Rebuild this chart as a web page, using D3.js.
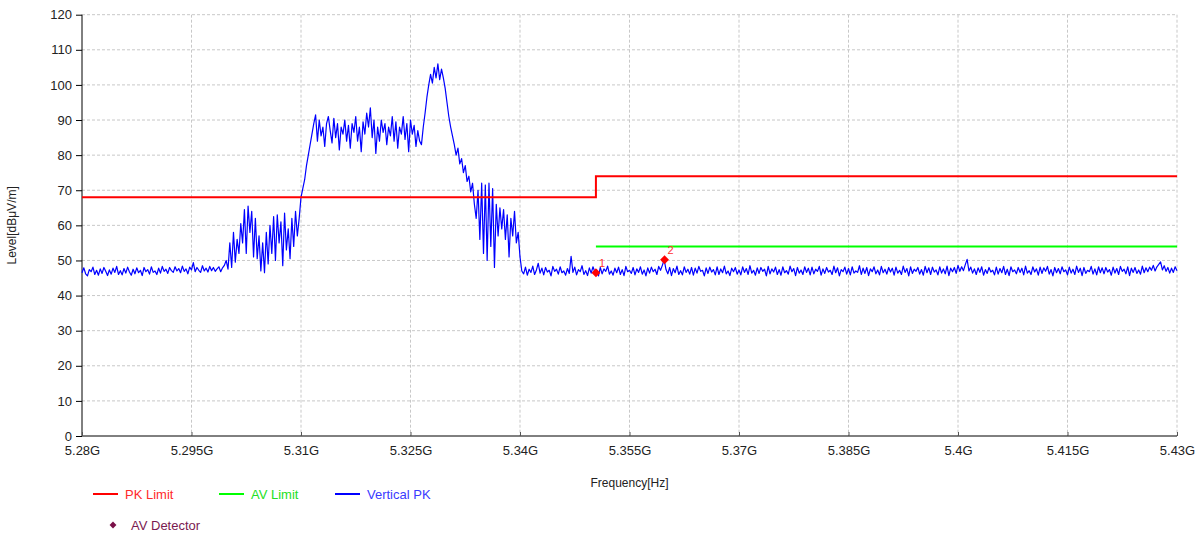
<!DOCTYPE html>
<html>
<head>
<meta charset="utf-8">
<script src="https://cdn.jsdelivr.net/npm/d3@7"></script>
<style>
  body { margin: 0; background: #fff; }
  svg { font-family: "Liberation Sans", Arial, sans-serif; }
  .grid line { stroke: #c8c8c8; stroke-dasharray: 3,2; }
</style>
</head>
<body>
<svg id="chart" width="1204" height="536"></svg>
<script>
// sweep: start / step in GHz, one level per step
var sweepStart = 5.28,
    sweepStep = 0.00025;

var verticalPK = [
  // 5.2800 - 5.2995
  46.5,47.9,46.2,45.6,47.4,46.8,48.1,46.0,47.2,45.8,
  47.6,46.3,48.0,46.9,45.7,47.3,46.1,47.8,46.6,48.3,
  46.0,47.1,45.9,47.7,46.4,48.1,46.7,45.8,47.5,46.2,
  47.9,46.5,47.2,45.7,48.0,46.8,47.4,46.1,48.2,46.6,
  47.0,46.0,47.8,46.4,48.3,46.9,47.5,46.3,48.0,47.1,
  46.6,48.2,47.0,47.7,46.5,48.4,46.9,47.6,46.2,48.1,
  47.3,49.4,46.8,48.0,47.2,46.6,48.5,47.0,47.8,46.7,
  48.3,47.1,48.0,46.9,47.6,48.2,46.8,47.9,48.6,
  // 5.29975 - 5.3100
  50,47.5,55,48,58,49.5,56,52,60.5,55,
  64.5,52,65.5,58,64,51,62,50.5,57,47,
  55,46.5,58,49,60,52,62.5,50,63,55,
  61,48.5,63.5,53,59,50.5,62,54,64,57,
  62,68,
  // 5.31025 - 5.32625
  70.5,73,77,80,83,86,89,91.5,84,90,
  85.5,88,82.5,89,91,87,83.5,90.5,85,89,
  81.5,88,86,90,84,88.5,82,89,86.5,91,
  84,88,81,89.5,86,92,88,93.5,85,90,
  80.5,88,84,90,86.5,89,83,88,85.5,91,
  84,89.5,82,88,86,91,84.5,89,81,90,
  86,88.5,82.5,87,84,
  // 5.3265 - 5.33375
  83,88,92,96.5,100,103,100.5,105,102,106,
  101.5,104.5,102,99,95,91,88,85.5,83,80,
  82,77.5,79,75,77,72.5,74,69.5,72,66,
  // 5.334 - 5.340
  62,70,56,72,52,71.5,50,72,54,70.5,
  48,66,57,65,59,64.5,56,63,51,62,
  57,64,55,58,51,
  // 5.34025 - 5.4300
  47.0,46.2,48.1,45.8,47.5,46.6,48.4,46.0,47.3,49.2,
  46.4,47.8,45.9,48.0,46.7,47.2,45.6,48.3,46.9,47.5,
  46.1,48.2,46.5,47.0,45.8,47.7,46.3,51.2,46.6,48.1,
  45.9,47.4,46.8,48.5,46.0,47.1,45.7,47.9,46.4,48.2,
  46.7,47.3,45.6,48.0,46.2,47.6,46.9,48.4,46.1,47.0,
  45.8,47.8,46.5,48.1,46.0,47.4,45.7,48.3,46.8,47.2,
  46.3,48.0,45.9,47.6,46.6,48.2,46.1,47.3,45.6,47.9,
  46.4,48.1,46.8,47.5,46.0,48.3,47.2,48.6,50.2,47.4,
  46.2,48.0,45.7,47.7,46.5,48.4,46.0,47.1,45.9,48.2,
  46.6,47.5,46.1,48.0,45.8,47.8,46.4,48.3,46.9,47.2,
  45.6,47.9,46.3,48.1,46.7,47.4,45.9,48.2,46.0,47.6,
  46.5,48.4,46.2,47.0,45.7,47.8,46.8,48.0,46.1,47.3,
  45.9,48.2,46.6,47.7,46.0,48.5,46.4,47.2,45.8,47.9,
  46.3,48.0,46.9,47.5,45.6,48.3,46.2,47.6,46.7,48.1,
  46.0,47.4,45.8,48.2,46.5,47.1,46.1,48.4,46.8,47.7,
  45.7,48.0,46.4,47.3,46.0,48.2,46.6,47.8,45.9,48.1,
  46.2,47.5,46.9,48.3,45.8,47.6,46.3,48.0,46.7,47.2,
  46.0,48.4,46.5,47.9,45.6,47.4,46.8,48.1,46.1,47.7,
  45.9,48.2,46.4,47.0,46.6,48.5,46.0,47.8,46.3,48.0,
  45.7,47.6,46.8,48.2,46.2,47.3,45.9,48.3,46.5,47.5,
  46.1,48.0,46.7,47.8,45.8,48.1,46.4,47.2,46.0,48.4,
  46.6,47.7,45.6,48.2,46.3,47.5,46.9,48.0,46.1,47.4,
  45.8,48.3,46.5,47.9,46.0,48.1,46.7,47.3,45.9,48.2,
  46.4,47.6,46.2,48.4,45.7,47.8,46.8,48.0,46.3,48.6,
  46.9,48.2,47.1,48.8,50.3,47.0,48.1,46.4,47.6,46.0,
  47.9,46.6,48.2,45.8,47.4,46.3,48.0,46.7,47.2,45.9,
  48.1,46.1,47.7,46.5,48.3,46.0,47.5,45.7,48.2,46.8,
  47.3,46.2,48.0,46.6,47.8,45.9,48.4,46.4,47.1,46.0,
  48.2,46.7,47.6,45.8,48.1,46.3,47.9,46.9,48.3,46.1,
  47.4,45.6,48.0,46.5,47.7,46.2,48.2,46.8,47.3,45.9,
  48.1,46.4,47.5,46.0,48.4,46.6,47.8,45.7,48.0,46.3,
  47.2,46.8,48.3,46.1,47.6,45.9,48.2,46.5,47.9,46.2,
  48.0,46.7,47.4,45.8,48.1,46.4,47.7,46.0,48.3,46.9,
  47.5,46.2,48.2,45.7,47.8,46.6,48.0,46.3,47.3,46.1,
  48.4,46.5,47.9,46.8,48.1,47.2,48.6,47.0,48.2,48.9,
  49.6,47.3,48.5,46.9,48.0,46.4,47.8,46.6,48.2,47.1
];

var pkLimitFreq = [5.28, 5.3504, 5.3504, 5.43],
    pkLimitLevel = [68, 68, 74, 74];
var avLimitFreq = [5.3504, 5.43],
    avLimitLevel = [54, 54];

var avDetFreq = [5.3504, 5.3598],
    avDetLevel = [46.5, 50.2],
    avDetLabel = ["1", "2"];

var xTicks = [5.28, 5.295, 5.31, 5.325, 5.34, 5.355, 5.37, 5.385, 5.4, 5.415, 5.43],
    xTickLabels = ["5.28G", "5.295G", "5.31G", "5.325G", "5.34G", "5.355G", "5.37G", "5.385G", "5.4G", "5.415G", "5.43G"],
    yTicks = [0, 10, 20, 30, 40, 50, 60, 70, 80, 90, 100, 110, 120];

var legendItems = [
  { name: "PK Limit", color: "#ff0000", text: "#ff2a2a", x: 93, y: 494, kind: "line" },
  { name: "AV Limit", color: "#00ff00", text: "#22e022", x: 219, y: 494, kind: "line" },
  { name: "Vertical PK", color: "#0000ff", text: "#3a3aff", x: 335, y: 494, kind: "line" },
  { name: "AV Detector", color: "#7a1048", text: "#7a1a50", x: 105, y: 525, kind: "dot" }
];

var svg = d3.select("#chart");

var plotLeft = 82, plotRight = 1177, plotTop = 14.7, plotBottom = 436;

var x = d3.scaleLinear().domain([5.28, 5.43]).range([plotLeft, plotRight]);
var y = d3.scaleLinear().domain([0, 120]).range([plotBottom, plotTop]);

// grid
var grid = svg.append("g").attr("class", "grid");
grid.selectAll("line.h")
    .data(yTicks.filter(function (d) { return d > 0; }))
    .enter().append("line")
    .attr("class", "h")
    .attr("x1", plotLeft).attr("x2", plotRight)
    .attr("y1", function (d) { return y(d); })
    .attr("y2", function (d) { return y(d); });
grid.selectAll("line.v")
    .data(xTicks.slice(1))
    .enter().append("line")
    .attr("class", "v")
    .attr("y1", plotTop).attr("y2", plotBottom)
    .attr("x1", function (d) { return x(d); })
    .attr("x2", function (d) { return x(d); });

// axes
var yAxis = d3.axisLeft(y).tickValues(yTicks).tickSize(6).tickPadding(4);
var gy = svg.append("g")
    .attr("transform", "translate(" + plotLeft + ",0)")
    .call(yAxis);
gy.select(".domain").attr("stroke", "#000").attr("d", "M0," + plotTop + "V" + plotBottom);
gy.selectAll(".tick line").attr("stroke", "#000");
gy.selectAll(".tick text")
    .attr("fill", "#222")
    .style("font-size", "13px")
    .style("font-family", "Liberation Sans, Arial, sans-serif");

var xAxis = d3.axisBottom(x)
    .tickValues(xTicks)
    .tickFormat(function (d, i) { return xTickLabels[i]; })
    .tickSize(-4)
    .tickPadding(10);
var gx = svg.append("g")
    .attr("transform", "translate(0," + plotBottom + ")")
    .call(xAxis);
gx.select(".domain").attr("stroke", "#000").attr("d", "M" + plotLeft + ",0H" + plotRight);
gx.selectAll(".tick line").attr("stroke", "#555");
gx.selectAll(".tick text")
    .attr("fill", "#222")
    .style("font-size", "13px")
    .style("font-family", "Liberation Sans, Arial, sans-serif");

svg.append("text")
    .attr("transform", "translate(16," + ((plotTop + plotBottom) / 2) + ") rotate(-90)")
    .attr("text-anchor", "middle")
    .attr("fill", "#222")
    .style("font-size", "12px")
    .text("Level[dBμV/m]");

svg.append("text")
    .attr("x", (plotLeft + plotRight) / 2)
    .attr("y", 487)
    .attr("text-anchor", "middle")
    .attr("fill", "#222")
    .style("font-size", "12px")
    .text("Frequency[Hz]");

// traces
var line = d3.line()
    .x(function (d) { return x(d[0]); })
    .y(function (d) { return y(d[1]); });

var pkData = verticalPK.map(function (v, i) { return [sweepStart + i * sweepStep, v]; });

svg.append("path")
    .datum(pkData)
    .attr("fill", "none")
    .attr("stroke", "#0000ff")
    .attr("stroke-width", 1.2)
    .attr("stroke-linejoin", "round")
    .attr("d", line);

svg.append("path")
    .datum(pkLimitFreq.map(function (f, i) { return [f, pkLimitLevel[i]]; }))
    .attr("fill", "none")
    .attr("stroke", "#ff0000")
    .attr("stroke-width", 2)
    .attr("d", line);

svg.append("path")
    .datum(avLimitFreq.map(function (f, i) { return [f, avLimitLevel[i]]; }))
    .attr("fill", "none")
    .attr("stroke", "#00ff00")
    .attr("stroke-width", 2)
    .attr("d", line);

// detector markers
var marks = svg.append("g").selectAll("g")
    .data(avDetFreq.map(function (f, i) { return { f: f, v: avDetLevel[i], label: avDetLabel[i] }; }))
    .enter().append("g")
    .attr("transform", function (d) { return "translate(" + x(d.f) + "," + y(d.v) + ")"; });
marks.append("path")
    .attr("d", d3.symbol().type(d3.symbolDiamond2).size(50))
    .attr("fill", "#ff0000");
marks.append("text")
    .attr("x", 3)
    .attr("y", -6)
    .attr("fill", "#ff3030")
    .style("font-size", "11px")
    .text(function (d) { return d.label; });

// legend
var leg = svg.append("g").selectAll("g")
    .data(legendItems)
    .enter().append("g")
    .attr("transform", function (d) { return "translate(" + d.x + "," + d.y + ")"; });
leg.filter(function (d) { return d.kind === "line"; })
    .append("line")
    .attr("x1", 0).attr("x2", 25)
    .attr("stroke", function (d) { return d.color; })
    .attr("stroke-width", 2);
leg.filter(function (d) { return d.kind === "dot"; })
    .append("path")
    .attr("transform", "translate(8,0)")
    .attr("d", d3.symbol().type(d3.symbolDiamond2).size(30))
    .attr("fill", function (d) { return d.color; });
leg.append("text")
    .attr("x", function (d) { return d.kind === "line" ? 32 : 26; })
    .attr("y", 5)
    .attr("fill", function (d) { return d.text; })
    .style("font-size", "13px")
    .text(function (d) { return d.name; });
</script>
</body>
</html>
